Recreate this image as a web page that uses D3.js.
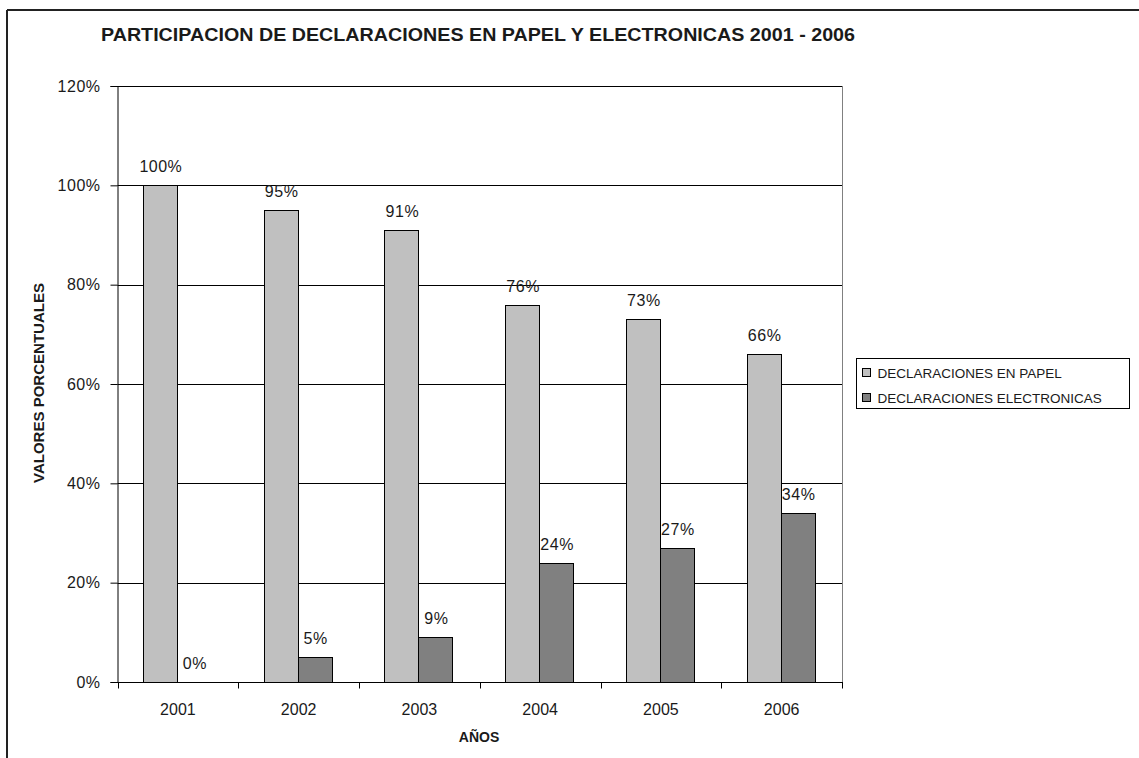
<!DOCTYPE html>
<html>
<head>
<meta charset="utf-8">
<script src="https://cdn.jsdelivr.net/npm/d3@7/dist/d3.min.js"></script>
<style>
  html, body { margin: 0; padding: 0; background: #fff; }
  svg { display: block; }
  text { font-family: Arial, "Liberation Sans", sans-serif; fill: #1a1a1a; }
</style>
</head>
<body>
<svg id="chart" width="1139" height="758"></svg>
<script>
// Data
const years = ["2001", "2002", "2003", "2004", "2005", "2006"];
const papel = [100, 95, 91, 76, 73, 66];
const electronicas = [0, 5, 9, 24, 27, 34];
const seriesNames = ["DECLARACIONES EN PAPEL", "DECLARACIONES ELECTRONICAS"];
const seriesColors = ["#c0c0c0", "#808080"];
const yTicks = [0, 20, 40, 60, 80, 100, 120];

const svg = d3.select("#chart");

// Outer frame (only top and left edges fall within the view)
svg.append("line").attr("x1", 7).attr("x2", 1139).attr("y1", 10).attr("y2", 10)
  .attr("stroke", "#222").attr("stroke-width", 2);
svg.append("line").attr("x1", 7).attr("x2", 7).attr("y1", 10).attr("y2", 758)
  .attr("stroke", "#222").attr("stroke-width", 2);

const plot = { left: 117.5, right: 842, top: 86, bottom: 682 };

const x = d3.scaleBand().domain(years).range([plot.left, plot.right]).paddingInner(0).paddingOuter(0);
const y = d3.scaleLinear().domain([0, 120]).range([plot.bottom, plot.top]);
const barW = 34;

// Gridlines
svg.append("g").selectAll("line").data(yTicks.filter(d => d > 0)).join("line")
  .attr("x1", plot.left).attr("x2", plot.right)
  .attr("y1", d => Math.round(y(d)) + 0.5).attr("y2", d => Math.round(y(d)) + 0.5)
  .attr("stroke", "#000").attr("stroke-width", 1);

// Right border of plot area
svg.append("line").attr("x1", plot.right + 0.5).attr("x2", plot.right + 0.5)
  .attr("y1", plot.top).attr("y2", plot.bottom)
  .attr("stroke", "#808080").attr("stroke-width", 1);

// Bars and value labels
const series = [papel, electronicas];
series.forEach((vals, si) => {
  svg.append("g").selectAll("rect").data(vals).join("rect")
    .attr("x", (d, i) => Math.round(x(years[i]) + x.bandwidth() / 2 - barW + si * barW) - 0.5)
    .attr("y", d => Math.round(y(d)) + 0.5)
    .attr("width", barW)
    .attr("height", d => Math.max(0, Math.round(y(0)) - Math.round(y(d))))
    .attr("fill", seriesColors[si])
    .attr("stroke", "#000").attr("stroke-width", 1);

  svg.append("g").selectAll("text").data(vals).join("text")
    .attr("x", (d, i) => x(years[i]) + x.bandwidth() / 2 - barW / 2 + si * barW)
    .attr("y", d => y(d) - 13)
    .attr("text-anchor", "middle")
    .attr("font-size", 16)
    .attr("letter-spacing", 0.5)
    .text(d => d + "%");
});

// Y axis
const yAxis = d3.axisLeft(y).tickValues(yTicks).tickFormat(d => d + "%").tickSize(7).tickPadding(10);
const gy = svg.append("g").attr("transform", `translate(${plot.left},0)`).call(yAxis);
gy.select(".domain").attr("stroke", "#000");
gy.selectAll(".tick line").attr("stroke", "#000");
gy.selectAll(".tick text").attr("font-size", 16).attr("letter-spacing", 0.5)
  .attr("font-family", "Arial, 'Liberation Sans', sans-serif").attr("fill", "#1a1a1a");

// X axis with ticks at category boundaries
const gx = svg.append("g").attr("transform", `translate(0,${plot.bottom + 0.5})`);
gx.append("line").attr("x1", plot.left).attr("x2", plot.right + 1)
  .attr("stroke", "#000");
const boundaries = years.map(d => x(d)).concat([plot.right]);
gx.selectAll(".bt").data(boundaries).join("line").attr("class", "bt")
  .attr("x1", d => Math.round(d) + 0.5).attr("x2", d => Math.round(d) + 0.5)
  .attr("y1", 0).attr("y2", 6).attr("stroke", "#000");
gx.selectAll(".lbl").data(years).join("text").attr("class", "lbl")
  .attr("x", d => x(d) + x.bandwidth() / 2)
  .attr("y", 32)
  .attr("text-anchor", "middle")
  .attr("font-size", 16)
  .text(d => d);

// Titles
svg.append("text").attr("x", 101).attr("y", 41)
  .attr("font-size", 18.5).attr("font-weight", "bold")
  .attr("textLength", 754).attr("lengthAdjust", "spacingAndGlyphs")
  .text("PARTICIPACION DE DECLARACIONES EN PAPEL Y ELECTRONICAS 2001 - 2006");

svg.append("text").attr("transform", "translate(44,383) rotate(-90)")
  .attr("text-anchor", "middle").attr("font-size", 14).attr("font-weight", "bold")
  .attr("textLength", 200).attr("lengthAdjust", "spacingAndGlyphs")
  .text("VALORES PORCENTUALES");

svg.append("text").attr("x", 479).attr("y", 742)
  .attr("text-anchor", "middle").attr("font-size", 14).attr("font-weight", "bold")
  .text("AÑOS");

// Legend
const lg = svg.append("g").attr("transform", "translate(856.5,358.5)");
lg.append("rect").attr("width", 273).attr("height", 50)
  .attr("fill", "#fff").attr("stroke", "#000");
seriesNames.forEach((name, i) => {
  const yy = 14 + i * 25;
  lg.append("rect").attr("x", 6).attr("y", yy - 4).attr("width", 8).attr("height", 8)
    .attr("fill", seriesColors[i]).attr("stroke", "#000");
  lg.append("text").attr("x", 21).attr("y", yy + 5)
    .attr("font-size", 13.5).text(name);
});
</script>
</body>
</html>
